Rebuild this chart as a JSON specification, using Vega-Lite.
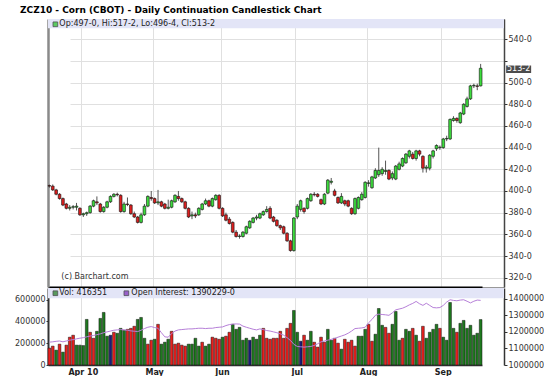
{
  "$schema": "https://vega.github.io/schema/vega-lite/v6.json",
  "background": "white",
  "padding": {"left": 14, "top": 5, "right": 0, "bottom": 0},
  "bounds": "flush",
  "spacing": 1,
  "config": {
    "font": "DejaVu Sans",
    "view": {"stroke": null},
    "axis": {"labelFont": "DejaVu Sans", "labelFontSize": 8, "labelColor": "#333", "tickColor": "#333", "domainColor": "#333"}
  },
  "title": {"text": "ZCZ10 - Corn (CBOT) - Daily Continuation Candlestick Chart", "anchor": "start", "frame": "group", "fontSize": 9, "fontWeight": "bold", "color": "#000", "offset": 4, "dx": -28},
  "datasets": {
    "lg": [
      {"k": "v", "t": "Vol: 416351", "o": 6, "to": 10},
      {"k": "oi", "t": "Open Interest: 1390229-0", "o": 77, "to": 82}
    ],
    "p": [
      {"d":"03-18","o":405,"h":406,"l":403,"c":404.5,"v":155000,"vd":"d","oi":1138000},
      {"d":"03-19","o":404.5,"h":406,"l":400,"c":401,"v":173000,"vd":"d","oi":1140000},
      {"d":"03-22","o":401,"h":402,"l":396,"c":397,"v":136000,"vd":"u","oi":1143000},
      {"d":"03-23","o":397,"h":398,"l":392,"c":393,"v":191000,"vd":"d","oi":1145000},
      {"d":"03-24","o":393,"h":394,"l":386,"c":387,"v":118000,"vd":"u","oi":1140000},
      {"d":"03-25","o":388,"h":389,"l":383,"c":384,"v":182000,"vd":"d","oi":1145000},
      {"d":"03-26","o":384,"h":387,"l":382,"c":385,"v":255000,"vd":"d","oi":1150000},
      {"d":"03-29","o":385,"h":387,"l":383,"c":385.5,"v":273000,"vd":"d","oi":1153000},
      {"d":"03-30","o":385,"h":389,"l":382,"c":386,"v":182000,"vd":"u","oi":1158000},
      {"d":"03-31","o":384,"h":385,"l":377,"c":378,"v":182000,"vd":"u","oi":1162000},
      {"d":"04-01","o":378,"h":380,"l":376,"c":379,"v":178000,"vd":"u","oi":1165000},
      {"d":"04-05","o":379,"h":381,"l":377,"c":380,"v":418000,"vd":"u","oi":1170000},
      {"d":"04-06","o":380,"h":387,"l":379,"c":386,"v":300000,"vd":"d","oi":1175000},
      {"d":"04-07","o":386,"h":392,"l":385,"c":391,"v":245000,"vd":"d","oi":1178000},
      {"d":"04-08","o":390,"h":395,"l":387,"c":389,"v":309000,"vd":"u","oi":1183000},
      {"d":"04-09","o":388,"h":389,"l":380,"c":381,"v":427000,"vd":"u","oi":1188000},
      {"d":"04-12","o":381,"h":386,"l":380,"c":385,"v":482000,"vd":"u","oi":1195000},
      {"d":"04-13","o":385,"h":391,"l":384,"c":390,"v":264000,"vd":"u","oi":1200000},
      {"d":"04-14","o":390,"h":396,"l":389,"c":395,"v":273000,"vd":"n","oi":1205000},
      {"d":"04-15","o":395,"h":398,"l":394,"c":397,"v":300000,"vd":"d","oi":1210000},
      {"d":"04-16","o":397,"h":398.5,"l":395,"c":396.5,"v":291000,"vd":"u","oi":1212000},
      {"d":"04-19","o":396,"h":397,"l":380,"c":381,"v":336000,"vd":"u","oi":1214000},
      {"d":"04-20","o":381,"h":390,"l":380,"c":388,"v":318000,"vd":"u","oi":1212000},
      {"d":"04-21","o":388,"h":394,"l":386,"c":387.5,"v":327000,"vd":"d","oi":1210000},
      {"d":"04-22","o":387,"h":388,"l":378,"c":379,"v":336000,"vd":"d","oi":1206000},
      {"d":"04-23","o":379,"h":381,"l":375,"c":376,"v":355000,"vd":"d","oi":1204000},
      {"d":"04-26","o":376,"h":377,"l":370,"c":371,"v":418000,"vd":"u","oi":1202000},
      {"d":"04-27","o":371,"h":380,"l":370,"c":378,"v":436000,"vd":"u","oi":1210000},
      {"d":"04-28","o":378,"h":388,"l":377,"c":386,"v":245000,"vd":"u","oi":1220000},
      {"d":"04-29","o":386,"h":396,"l":385,"c":395,"v":191000,"vd":"d","oi":1228000},
      {"d":"04-30","o":394,"h":400,"l":391,"c":393,"v":227000,"vd":"d","oi":1232000},
      {"d":"05-03","o":393,"h":394,"l":388,"c":389,"v":236000,"vd":"u","oi":1226000},
      {"d":"05-04","o":389,"h":401,"l":387,"c":390,"v":373000,"vd":"d","oi":1222000},
      {"d":"05-05","o":390,"h":391,"l":385,"c":386,"v":191000,"vd":"u","oi":1195000},
      {"d":"05-06","o":388,"h":389,"l":383,"c":384,"v":209000,"vd":"u","oi":1170000},
      {"d":"05-07","o":384,"h":392,"l":383,"c":385,"v":236000,"vd":"u","oi":1168000},
      {"d":"05-10","o":385,"h":392,"l":384,"c":391,"v":309000,"vd":"d","oi":1190000},
      {"d":"05-11","o":390,"h":397,"l":389,"c":396,"v":191000,"vd":"d","oi":1205000},
      {"d":"05-12","o":395,"h":400,"l":391,"c":393,"v":200000,"vd":"d","oi":1212000},
      {"d":"05-13","o":393,"h":394,"l":389,"c":390,"v":182000,"vd":"d","oi":1214000},
      {"d":"05-14","o":390,"h":391,"l":383,"c":384,"v":173000,"vd":"d","oi":1216000},
      {"d":"05-17","o":384,"h":385,"l":375,"c":376,"v":191000,"vd":"u","oi":1218000},
      {"d":"05-18","o":377,"h":381,"l":374,"c":378,"v":191000,"vd":"u","oi":1218000},
      {"d":"05-19","o":378,"h":380,"l":375,"c":377,"v":245000,"vd":"u","oi":1220000},
      {"d":"05-20","o":378,"h":385,"l":377,"c":384,"v":173000,"vd":"u","oi":1222000},
      {"d":"05-21","o":383,"h":389,"l":382,"c":388,"v":209000,"vd":"d","oi":1222000},
      {"d":"05-24","o":388,"h":393,"l":387,"c":391,"v":173000,"vd":"u","oi":1220000},
      {"d":"05-25","o":391,"h":392,"l":385,"c":386,"v":191000,"vd":"u","oi":1222000},
      {"d":"05-26","o":386,"h":394,"l":385,"c":393,"v":255000,"vd":"d","oi":1222000},
      {"d":"05-27","o":392,"h":397,"l":391,"c":396,"v":245000,"vd":"d","oi":1226000},
      {"d":"05-28","o":396,"h":397,"l":383,"c":384,"v":236000,"vd":"d","oi":1228000},
      {"d":"06-01","o":384,"h":385,"l":376,"c":377,"v":255000,"vd":"u","oi":1230000},
      {"d":"06-02","o":378,"h":380,"l":372,"c":373,"v":264000,"vd":"d","oi":1238000},
      {"d":"06-03","o":374,"h":376,"l":369,"c":370,"v":300000,"vd":"d","oi":1244000},
      {"d":"06-04","o":371,"h":372,"l":361,"c":362,"v":373000,"vd":"u","oi":1247000},
      {"d":"06-07","o":362,"h":364,"l":357,"c":358,"v":327000,"vd":"u","oi":1248000},
      {"d":"06-08","o":358,"h":360,"l":356,"c":358.5,"v":345000,"vd":"u","oi":1247000},
      {"d":"06-09","o":358,"h":363,"l":357,"c":362,"v":227000,"vd":"u","oi":1235000},
      {"d":"06-10","o":361,"h":368,"l":360,"c":367,"v":245000,"vd":"u","oi":1228000},
      {"d":"06-11","o":366,"h":373,"l":365,"c":372,"v":227000,"vd":"n","oi":1222000},
      {"d":"06-14","o":371,"h":376,"l":370,"c":375,"v":255000,"vd":"u","oi":1216000},
      {"d":"06-15","o":375,"h":378,"l":373,"c":376,"v":236000,"vd":"u","oi":1212000},
      {"d":"06-16","o":375,"h":380,"l":374,"c":379,"v":273000,"vd":"u","oi":1218000},
      {"d":"06-17","o":378,"h":382,"l":377,"c":381,"v":336000,"vd":"d","oi":1214000},
      {"d":"06-18","o":381,"h":386,"l":380,"c":383,"v":245000,"vd":"d","oi":1208000},
      {"d":"06-21","o":384,"h":386,"l":374,"c":375,"v":236000,"vd":"d","oi":1205000},
      {"d":"06-22","o":376,"h":377,"l":371,"c":372,"v":245000,"vd":"d","oi":1200000},
      {"d":"06-23","o":373,"h":374,"l":367,"c":368,"v":245000,"vd":"d","oi":1195000},
      {"d":"06-24","o":368,"h":369,"l":364,"c":366,"v":309000,"vd":"d","oi":1188000},
      {"d":"06-25","o":367,"h":368,"l":360,"c":361,"v":245000,"vd":"d","oi":1180000},
      {"d":"06-28","o":361,"h":362,"l":353,"c":354,"v":336000,"vd":"d","oi":1165000},
      {"d":"06-29","o":354,"h":355,"l":344,"c":345,"v":382000,"vd":"d","oi":1148000},
      {"d":"06-30","o":345,"h":376,"l":344,"c":375,"v":500000,"vd":"u","oi":1125000},
      {"d":"07-01","o":376,"h":388,"l":374,"c":386,"v":300000,"vd":"u","oi":1112000},
      {"d":"07-02","o":383,"h":392,"l":381,"c":391,"v":218000,"vd":"n","oi":1110000},
      {"d":"07-06","o":384,"h":385,"l":379,"c":381,"v":273000,"vd":"d","oi":1108000},
      {"d":"07-07","o":384,"h":394,"l":383,"c":393,"v":227000,"vd":"u","oi":1110000},
      {"d":"07-08","o":391,"h":398,"l":390,"c":397,"v":309000,"vd":"u","oi":1112000},
      {"d":"07-09","o":397,"h":399,"l":395,"c":396.5,"v":209000,"vd":"d","oi":1118000},
      {"d":"07-12","o":397,"h":398,"l":394,"c":395,"v":164000,"vd":"d","oi":1128000},
      {"d":"07-13","o":392,"h":393,"l":387,"c":388,"v":255000,"vd":"d","oi":1140000},
      {"d":"07-14","o":388,"h":398,"l":387,"c":397,"v":209000,"vd":"d","oi":1145000},
      {"d":"07-15","o":398,"h":411,"l":397,"c":410,"v":327000,"vd":"u","oi":1150000},
      {"d":"07-16","o":408,"h":412,"l":406,"c":409,"v":227000,"vd":"u","oi":1155000},
      {"d":"07-19","o":400,"h":402,"l":395,"c":396,"v":245000,"vd":"d","oi":1160000},
      {"d":"07-20","o":394,"h":395,"l":388,"c":389,"v":200000,"vd":"d","oi":1168000},
      {"d":"07-21","o":389,"h":398,"l":388,"c":395,"v":145000,"vd":"u","oi":1175000},
      {"d":"07-22","o":391,"h":392,"l":386,"c":388,"v":236000,"vd":"d","oi":1182000},
      {"d":"07-23","o":391,"h":392,"l":385,"c":386,"v":209000,"vd":"d","oi":1192000},
      {"d":"07-26","o":384,"h":385,"l":378,"c":379,"v":227000,"vd":"d","oi":1205000},
      {"d":"07-27","o":379,"h":394,"l":378,"c":393,"v":173000,"vd":"d","oi":1220000},
      {"d":"07-28","o":384,"h":395,"l":383,"c":394,"v":264000,"vd":"u","oi":1222000},
      {"d":"07-29","o":392,"h":399,"l":391,"c":397,"v":264000,"vd":"u","oi":1224000},
      {"d":"07-30","o":394,"h":409,"l":393,"c":408,"v":327000,"vd":"u","oi":1228000},
      {"d":"08-02","o":407,"h":410,"l":404,"c":407.5,"v":373000,"vd":"d","oi":1255000},
      {"d":"08-03","o":403,"h":414,"l":402,"c":413,"v":218000,"vd":"d","oi":1275000},
      {"d":"08-04","o":412,"h":421,"l":411,"c":419,"v":282000,"vd":"u","oi":1300000},
      {"d":"08-05","o":415,"h":440,"l":413,"c":419,"v":518000,"vd":"u","oi":1307000},
      {"d":"08-06","o":416,"h":422,"l":414,"c":420,"v":364000,"vd":"u","oi":1305000},
      {"d":"08-09","o":418,"h":428,"l":415,"c":419,"v":345000,"vd":"d","oi":1303000},
      {"d":"08-10","o":419,"h":420,"l":410,"c":411,"v":291000,"vd":"d","oi":1300000},
      {"d":"08-11","o":412,"h":418,"l":410,"c":416,"v":373000,"vd":"u","oi":1315000},
      {"d":"08-12","o":411,"h":424,"l":410,"c":423,"v":491000,"vd":"u","oi":1333000},
      {"d":"08-13","o":420,"h":427,"l":419,"c":425,"v":227000,"vd":"u","oi":1338000},
      {"d":"08-16","o":423,"h":431,"l":422,"c":430,"v":245000,"vd":"d","oi":1343000},
      {"d":"08-17","o":426,"h":435,"l":425,"c":434,"v":327000,"vd":"u","oi":1352000},
      {"d":"08-18","o":432,"h":438,"l":430,"c":437,"v":309000,"vd":"u","oi":1363000},
      {"d":"08-19","o":434,"h":436,"l":429,"c":430,"v":336000,"vd":"d","oi":1372000},
      {"d":"08-20","o":430,"h":438,"l":428,"c":437,"v":273000,"vd":"u","oi":1384000},
      {"d":"08-23","o":437,"h":438,"l":432,"c":434,"v":218000,"vd":"d","oi":1370000},
      {"d":"08-24","o":432,"h":433,"l":417,"c":421,"v":355000,"vd":"d","oi":1360000},
      {"d":"08-25","o":421,"h":424,"l":417,"c":422,"v":245000,"vd":"u","oi":1373000},
      {"d":"08-26","o":421,"h":434,"l":419,"c":433,"v":300000,"vd":"u","oi":1360000},
      {"d":"08-27","o":432,"h":438,"l":430,"c":437,"v":327000,"vd":"u","oi":1347000},
      {"d":"08-30","o":439,"h":443,"l":437,"c":442,"v":373000,"vd":"u","oi":1345000},
      {"d":"08-31","o":440,"h":442,"l":438,"c":440.5,"v":336000,"vd":"d","oi":1347000},
      {"d":"09-01","o":440,"h":449,"l":439,"c":448,"v":255000,"vd":"u","oi":1360000},
      {"d":"09-02","o":448,"h":451,"l":446,"c":448.5,"v":227000,"vd":"u","oi":1380000},
      {"d":"09-03","o":448,"h":467,"l":447,"c":466,"v":573000,"vd":"u","oi":1394000},
      {"d":"09-07","o":465,"h":469,"l":464,"c":467,"v":336000,"vd":"u","oi":1390000},
      {"d":"09-08","o":467,"h":468,"l":463,"c":465,"v":300000,"vd":"d","oi":1388000},
      {"d":"09-09","o":463,"h":473,"l":462,"c":472,"v":382000,"vd":"u","oi":1392000},
      {"d":"09-10","o":471,"h":481,"l":470,"c":480,"v":409000,"vd":"u","oi":1394000},
      {"d":"09-13","o":478,"h":487,"l":477,"c":485,"v":336000,"vd":"u","oi":1385000},
      {"d":"09-14","o":485,"h":498,"l":484,"c":497,"v":364000,"vd":"u","oi":1375000},
      {"d":"09-15","o":497,"h":499,"l":495,"c":497.5,"v":273000,"vd":"u","oi":1385000},
      {"d":"09-16","o":497,"h":499,"l":493,"c":496.5,"v":291000,"vd":"u","oi":1392000},
      {"d":"09-17","o":497,"h":517.25,"l":496.5,"c":513.25,"v":416351,"vd":"u","oi":1390229}
    ]
  },
  "vconcat": [
    {
      "width": 456,
      "height": 268,
      "view": {"stroke": "#999", "strokeWidth": 1},
      "resolve": {"axis": {"x": "independent", "y": "independent"}},
      "layer": [
        {
          "data": {"values": [{}]},
          "mark": {"type": "rect", "fill": "#e3e5f7"},
          "encoding": {
            "x": {"value": 0},
            "x2": {"value": "width"},
            "y": {"datum": 550.2, "type": "quantitative", "axis": null, "scale": {"domain": [311.4, 558.7], "nice": false, "zero": false}},
            "y2": {"datum": 558.7}
          }
        },
        {
          "data": {"name": "p"},
          "mark": {"type": "rule", "color": "#555", "strokeWidth": 1},
          "encoding": {
            "x": {"field": "d", "type": "ordinal", "title": null, "scale": {"range": [0, 434], "paddingInner": 0.2, "paddingOuter": 0},
              "axis": {"values": ["04-01", "05-03", "06-01", "07-01", "08-02", "09-01"], "bandPosition": 0, "labels": false, "ticks": false, "domain": true, "domainColor": "#000", "domainWidth": 2, "grid": true, "gridColor": "#e0e0e0", "title": null}},
            "y": {"field": "l", "type": "quantitative", "title": null, "scale": {"domain": [311.4, 558.7], "nice": false, "zero": false},
              "axis": {"orient": "right", "values": [320, 340, 360, 380, 400, 420, 440, 460, 480, 500, 520, 540], "labelExpr": "datum.value == 520 ? '' : datum.value + '-0'", "labelOverlap": false, "labelBound": false, "tickSize": 3, "labelPadding": 1, "domainColor": "#444", "domainWidth": 1.5, "grid": true, "gridColor": "#e0e0e0", "title": null}},
            "y2": {"field": "h"}
          }
        },
        {
          "data": {"name": "p"},
          "mark": {"type": "bar", "stroke": "#111", "strokeWidth": 0.6},
          "encoding": {
            "x": {"field": "d", "type": "ordinal", "title": null, "axis": null},
            "y": {"field": "o", "type": "quantitative", "title": null,
              "axis": {"orient": "left", "labels": false, "ticks": false, "grid": false, "domain": true, "domainColor": "#8a8a8a", "domainWidth": 2.5, "title": null}},
            "y2": {"field": "c"},
            "fill": {"condition": {"test": "datum.c > datum.o", "value": "#3ddc3d"}, "value": "#dd1f1f"}
          }
        },
        {
          "data": {"values": [{}]},
          "mark": {"type": "point", "shape": "square", "filled": true, "size": 22, "fill": "#22c022", "stroke": "#111", "strokeWidth": 0.8, "xOffset": 6},
          "encoding": {
            "x": {"datum": "03-18", "type": "ordinal", "axis": null},
            "y": {"datum": 553.8, "type": "quantitative", "axis": null}
          }
        },
        {
          "data": {"values": [{}]},
          "mark": {"type": "text", "align": "left", "baseline": "middle", "fontSize": 8, "color": "#222", "dx": 10, "text": "Op:497-0, Hi:517-2, Lo:496-4, Cl:513-2"},
          "encoding": {
            "x": {"datum": "03-18", "type": "ordinal", "axis": null},
            "y": {"datum": 553.8, "type": "quantitative", "axis": null}
          }
        },
        {
          "data": {"values": [{}]},
          "mark": {"type": "text", "align": "left", "baseline": "middle", "fontSize": 8, "color": "#333", "dx": 12, "text": "(c) Barchart.com"},
          "encoding": {
            "x": {"datum": "03-18", "type": "ordinal", "axis": null},
            "y": {"datum": 320.8, "type": "quantitative", "axis": null}
          }
        },
        {
          "data": {"values": [{}]},
          "mark": {"type": "point", "shape": "M-1,-0.3L1,-0.3L1,0.3L-1,0.3Z", "filled": true, "size": 625, "fill": "#000", "stroke": null, "xOffset": 38, "yOffset": 1},
          "encoding": {
            "x": {"datum": "09-17", "type": "ordinal", "axis": null},
            "y": {"datum": 513.25, "type": "quantitative", "axis": null}
          }
        },
        {
          "data": {"values": [{}]},
          "mark": {"type": "text", "align": "center", "baseline": "middle", "fontSize": 8, "color": "#fff", "dx": 38, "dy": 1, "text": "513-2"},
          "encoding": {
            "x": {"datum": "09-17", "type": "ordinal", "axis": null},
            "y": {"datum": 513.25, "type": "quantitative", "axis": null}
          }
        }
      ]
    },
    {
      "width": 456,
      "height": 77,
      "resolve": {"scale": {"y": "independent"}, "axis": {"x": "independent", "y": "independent"}},
      "layer": [
        {
          "resolve": {"axis": {"x": "independent", "y": "independent"}},
          "layer": [
            {
              "data": {"values": [{}]},
              "mark": {"type": "rect", "fill": "#e3e5f7"},
              "encoding": {
                "x": {"value": 0},
                "x2": {"value": "width"},
                "y": {"datum": 612000, "type": "quantitative", "axis": null, "scale": {"domain": [0, 706000], "nice": false, "zero": false}},
                "y2": {"datum": 706000}
              }
            },
            {
              "data": {"name": "p"},
              "mark": {"type": "bar", "stroke": "#111", "strokeWidth": 0.5},
              "encoding": {
                "x": {"field": "d", "type": "ordinal", "title": null, "scale": {"range": [0, 434], "paddingInner": 0.2, "paddingOuter": 0},
                  "axis": {"values": ["04-01", "05-03", "06-01", "07-01", "08-02", "09-01"], "bandPosition": 0, "labelExpr": "datum.value=='04-01'?'Apr 10':datum.value=='05-03'?'May':datum.value=='06-01'?'Jun':datum.value=='07-01'?'Jul':datum.value=='08-02'?'Aug':'Sep'", "labelAngle": 0, "labelFontWeight": "bold", "labelColor": "#222", "labelPadding": 3, "ticks": false, "domain": true, "domainColor": "#333", "domainWidth": 1.5, "grid": true, "gridColor": "#e0e0e0", "title": null}},
                "y": {"field": "v", "type": "quantitative", "title": null, "scale": {"domain": [0, 706000], "nice": false, "zero": false},
                  "axis": {"orient": "left", "values": [0, 200000, 400000, 600000], "format": "d", "labelOverlap": false, "labelBound": false, "tickSize": 2, "labelPadding": 1, "domainColor": "#333", "domainWidth": 2, "grid": false, "title": null}},
                "fill": {"field": "vd", "type": "nominal", "legend": null, "scale": {"domain": ["u", "d", "n"], "range": ["#1e7a1e", "#e8201e", "#1a1a7a"]}}
              }
            },
            {
              "data": {"name": "lg"},
              "mark": {"type": "point", "shape": "square", "filled": true, "size": 22, "stroke": "#111", "strokeWidth": 0.8, "xOffset": {"expr": "datum.o"}},
              "encoding": {
                "x": {"datum": "03-18", "type": "ordinal", "axis": null},
                "y": {"datum": 658000, "type": "quantitative", "axis": null},
                "fill": {"condition": {"test": "datum.k == 'v'", "value": "#1e7a1e"}, "value": "#7a2ab8"}
              }
            },
            {
              "data": {"name": "lg"},
              "mark": {"type": "text", "align": "left", "baseline": "middle", "fontSize": 8, "color": "#222", "dx": {"expr": "datum.to"}},
              "encoding": {
                "x": {"datum": "03-18", "type": "ordinal", "axis": null},
                "y": {"datum": 658000, "type": "quantitative", "axis": null},
                "text": {"field": "t", "type": "nominal"}
              }
            }
          ]
        },
        {
          "data": {"name": "p"},
          "mark": {"type": "line", "color": "#b67fd8", "strokeWidth": 1},
          "encoding": {
            "x": {"field": "d", "type": "ordinal", "title": null, "axis": null},
            "y": {"field": "oi", "type": "quantitative", "title": null, "scale": {"domain": [1000000, 1465000], "nice": false, "zero": false},
              "axis": {"orient": "right", "values": [1000000, 1100000, 1200000, 1300000, 1400000], "format": "d", "labelOverlap": false, "labelBound": false, "tickSize": 3, "labelPadding": 1, "domainColor": "#333", "domainWidth": 1.5, "grid": false, "title": null}}
          }
        }
      ]
    }
  ]
}
